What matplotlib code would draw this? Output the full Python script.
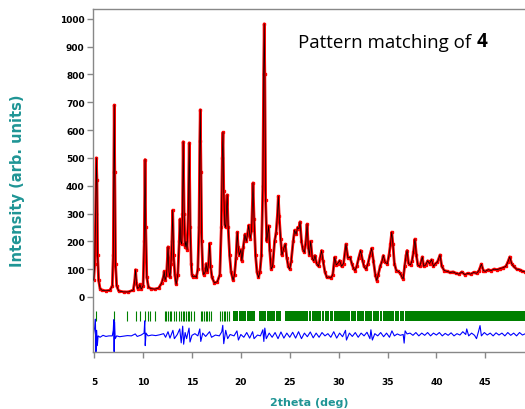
import matplotlib
matplotlib.use("Agg")
import matplotlib.pyplot as plt

# ---------------- data ----------------
obs_x = [4.95, 5.05, 5.15, 5.22, 5.28, 5.35, 5.45, 5.6, 5.8, 6.2, 6.6, 6.85, 6.95, 7.0, 7.05, 7.1, 7.18, 7.3, 7.5, 8.0,
         8.5, 9.0, 9.15, 9.23, 9.32, 9.45, 9.6, 9.68, 9.8, 10.0, 10.12, 10.2, 10.27, 10.38, 10.55, 10.8, 11.2, 11.6, 11.9, 12.1,
         12.16, 12.25, 12.4, 12.55, 12.65, 12.75, 12.85, 12.95, 13.03, 13.12, 13.25, 13.38, 13.55, 13.7, 13.78, 13.85, 13.95, 14.03, 14.1, 14.2,
         14.3, 14.4, 14.5, 14.62, 14.72, 14.82, 14.92, 15.0, 15.1, 15.3, 15.45, 15.6, 15.72, 15.8, 15.85, 15.92, 16.0, 16.1, 16.2, 16.35,
         16.45, 16.55, 16.7, 16.8, 16.9, 17.05, 17.3, 17.6, 17.85, 18.0, 18.1, 18.17, 18.25, 18.35, 18.45, 18.6, 18.7, 18.85, 19.0, 19.2,
         19.35, 19.5, 19.63, 19.72, 19.85, 20.0, 20.1, 20.25, 20.42, 20.55, 20.7, 20.8, 20.95, 21.1, 21.24, 21.35, 21.5, 21.65, 21.8, 21.95,
         22.1, 22.25, 22.33, 22.39, 22.45, 22.53, 22.65, 22.84, 22.95, 23.1, 23.25, 23.45, 23.6, 23.75, 23.83, 23.92, 24.07, 24.2, 24.35, 24.54,
         24.7, 24.85, 25.0, 25.15, 25.35, 25.5, 25.65, 25.8, 25.95, 26.05, 26.2, 26.35, 26.5, 26.65, 26.77, 26.9, 27.0, 27.14, 27.3, 27.45,
         27.58, 27.75, 27.95, 28.1, 28.26, 28.4, 28.6, 28.8, 29.0, 29.2, 29.4, 29.6, 29.75, 29.9, 30.1, 30.3, 30.5, 30.75, 30.95, 31.16,
         31.35, 31.5, 31.67, 31.85, 32.05, 32.25, 32.45, 32.6, 32.8, 33.0, 33.2, 33.38, 33.55, 33.75, 33.9, 34.05, 34.25, 34.45, 34.57, 34.75,
         34.98, 35.15, 35.3, 35.43, 35.55, 35.7, 35.9, 36.1, 36.3, 36.5, 36.6, 36.75, 36.9, 37.0, 37.15, 37.35, 37.5, 37.65, 37.8, 37.95,
         38.1, 38.3, 38.56, 38.7, 38.9, 39.1, 39.3, 39.5, 39.7, 39.9, 40.1, 40.37, 40.55, 40.8, 41.1, 41.4, 41.7, 42.0, 42.3, 42.6,
         42.9, 43.2, 43.5, 43.8, 44.1, 44.35, 44.6, 44.8, 45.0, 45.3, 45.6, 45.9, 46.2, 46.5, 46.8, 47.1, 47.3, 47.5, 47.7, 47.9,
         48.2, 48.5, 48.8, 49.1]
obs_y = [60, 120, 300, 500, 420, 150, 60, 30, 24, 22, 24, 40, 150, 450, 690, 450, 120, 40, 22, 18,
         18, 25, 60, 98, 50, 30, 35, 45, 28, 40, 200, 494, 250, 70, 35, 30, 28, 32, 50, 75,
         92, 60, 80, 180, 90, 70, 120, 200, 312, 150, 80, 45, 80, 200, 280, 200, 190, 300, 558, 300,
         180, 200, 170, 300, 554, 250, 120, 80, 72, 75, 70, 100, 250, 560, 673, 450, 200, 100, 80, 90,
         120, 90, 120, 193, 110, 70, 50, 55, 80, 250, 500, 592, 380, 260, 250, 367, 250, 150, 90, 60,
         80, 140, 233, 180, 150, 170, 130, 180, 225, 200, 230, 258, 210, 240, 410, 280, 150, 90, 70, 90,
         150, 400, 800, 982, 800, 350, 200, 256, 170, 100, 110, 200, 230, 300, 362, 290, 208, 150, 170, 190,
         140, 110, 100, 130, 200, 240, 225, 250, 245, 270, 200, 170, 160, 200, 262, 180, 150, 200, 140, 130,
         149, 120, 110, 140, 167, 130, 90, 70, 72, 68, 80, 143, 115, 120, 131, 110, 120, 190, 140, 143,
         120, 105, 95, 110, 140, 167, 130, 110, 100, 120, 150, 175, 130, 80, 59, 80, 110, 130, 149, 125,
         119, 150, 190, 233, 190, 120, 95, 92, 85, 70, 65, 110, 150, 167, 120, 115, 130, 160, 208, 150,
         115, 110, 144, 110, 115, 130, 120, 134, 110, 120, 125, 151, 110, 95, 92, 88, 90, 85, 82, 90,
         80, 85, 82, 88, 85, 95, 118, 95, 92, 98, 95, 100, 98, 102, 105, 110, 125, 144, 120, 110,
         100, 98, 92, 90]

diff_x = [4.87, 4.95, 5.05, 5.12, 5.18, 5.25, 5.32, 5.4, 5.6, 5.9, 6.2, 6.5, 6.85, 6.95, 7.0, 7.04, 7.08, 7.15, 7.3, 7.6,
          8.0, 8.4, 8.8, 9.2, 9.4, 9.8, 10.1, 10.17, 10.22, 10.3, 10.5, 10.9, 11.3, 11.7, 12.1, 12.3, 12.55, 12.75, 13.05, 13.2,
          13.5, 13.75, 13.9, 14.05, 14.15, 14.3, 14.45, 14.7, 14.8, 15.0, 15.3, 15.6, 15.8, 15.9, 16.1, 16.4, 16.8, 17.0, 17.4, 17.8,
          18.05, 18.15, 18.25, 18.45, 18.65, 18.9, 19.3, 19.6, 19.75, 20.0, 20.3, 20.6, 20.9, 21.2, 21.35, 21.7, 22.0, 22.25, 22.35, 22.45,
          22.6, 22.9, 23.2, 23.5, 23.8, 24.1, 24.4, 24.7, 25.0, 25.3, 25.6, 25.9, 26.2, 26.5, 26.8, 27.1, 27.4, 27.7, 28.0, 28.3,
          28.6, 28.9, 29.2, 29.5, 29.8, 30.1, 30.4, 30.7, 30.8, 31.1, 31.4, 31.7, 32.0, 32.3, 32.6, 32.9, 33.2, 33.3, 33.45, 33.7,
          34.0, 34.3, 34.6, 34.9, 35.2, 35.45, 35.7, 36.0, 36.3, 36.6, 36.7, 36.8, 37.0, 37.3, 37.6, 37.9, 38.2, 38.5, 38.8, 39.1,
          39.4, 39.7, 40.0, 40.3, 40.6, 40.9, 41.2, 41.5, 41.8, 42.1, 42.4, 42.7, 43.0, 43.1, 43.3, 43.6, 43.9, 44.1, 44.3, 44.46,
          44.6, 44.9, 45.2, 45.5, 45.8, 46.1, 46.4, 46.7, 47.0, 47.3, 47.6, 47.9, 48.2, 48.5, 48.8, 49.1]
diff_y = [-150, -130, -110, -80, -197, -120, -175, -140, -145, -138, -142, -140, -140, -120, -82, -197, -90, -150, -140, -143,
          -141, -139, -140, -133, -142, -137, -130, -86, -175, -130, -140, -137, -139, -136, -132, -145, -125, -148, -120, -150,
          -135, -115, -165, -105, -170, -128, -150, -112, -162, -138, -132, -140, -115, -160, -130, -142, -125, -145, -137, -140,
          -125, -102, -168, -120, -150, -135, -140, -122, -155, -135, -145, -128, -148, -125, -150, -137, -140, -118, -160, -112,
          -150, -130, -145, -128, -150, -126, -148, -130, -145, -127, -148, -125, -150, -130, -143, -126, -147, -130, -145, -128,
          -140, -132, -145, -125, -148, -130, -143, -120, -155, -130, -142, -128, -145, -130, -140, -127, -150, -118, -155, -132,
          -140, -128, -143, -130, -145, -122, -140, -133, -138, -135, -166, -122, -133, -130, -138, -128, -140, -130, -138, -128,
          -140, -130, -137, -128, -140, -131, -138, -129, -140, -132, -137, -125, -135, -115, -140, -130, -138, -150, -125, -103,
          -140, -128, -137, -130, -140, -129, -137, -130, -140, -128, -138, -130, -140, -128, -137, -132]

# Bragg reflection positions (isolated ticks) and dense blocks of ticks
refl_pos = [5.2, 7.02, 8.38, 9.23, 9.64, 10.15, 10.49, 10.66, 11.18, 12.2, 12.37, 12.54, 12.71, 12.88, 13.15, 13.4,
            13.7, 13.87, 14.04, 14.21, 14.38, 14.55, 14.72, 14.89, 15.16, 15.9, 16.07, 16.24, 16.41, 16.58, 16.75, 16.92,
            17.9, 18.07, 18.24, 18.41, 18.58, 18.75]
refl_start = [19.2, 19.85, 20.6, 21.9, 22.7, 23.6, 24.55, 26.95, 27.28, 27.73, 28.25, 28.65, 29.1, 29.55, 31.25, 31.85,
              32.7, 33.55, 34.25, 34.55, 35.8, 36.32, 36.75]
refl_end = [19.75, 20.5, 21.4, 22.6, 23.5, 24.1, 26.85, 27.2, 27.65, 28.15, 28.55, 29.0, 29.45, 31.15, 31.75, 32.6,
            33.45, 34.15, 34.45, 35.7, 36.22, 36.65, 49.2]

x_ticks = [5, 10, 15, 20, 25, 30, 35, 40, 45]
y_ticks = [0, 100, 200, 300, 400, 500, 600, 700, 800, 900, 1000]

# ---------------- figure ----------------
fig = plt.figure(figsize=(5.25, 4.10), dpi=100)
ax = fig.add_axes([0.177, 0.139, 0.823, 0.837])

grey = "#888888"
teal = "#1f9595"

ax.plot(obs_x, obs_y, color="red", lw=2.0, zorder=2)
ax.plot(obs_x, obs_y, ls="none", marker="s", ms=1.6, color="red", zorder=2)
ax.plot(obs_x, obs_y, color="black", lw=0.5, zorder=3)

ax.vlines(refl_pos, -85, -49, color="#008000", lw=0.8, zorder=2)
for s, e in zip(refl_start, refl_end):
    ax.fill_between([s, e], -85, -49, color="#008000", lw=0, zorder=2)

ax.plot(diff_x, diff_y, color="blue", lw=0.8, zorder=2)

ax.set_xlim(4.87, 49.06)
ax.set_ylim(-198, 1036)

ax.set_xticks(x_ticks)
ax.set_yticks(y_ticks)
ax.tick_params(axis="both", direction="out", color=grey, length=4, width=1)
ax.tick_params(axis="x", pad=14)
ax.tick_params(axis="y", pad=2)
for lab in ax.get_xticklabels() + ax.get_yticklabels():
    lab.set_fontweight("bold")
    lab.set_fontsize(6.5)
    lab.set_color("black")

for side in ["left", "top", "bottom"]:
    ax.spines[side].set_color(grey)
    ax.spines[side].set_linewidth(1.0)
ax.spines["right"].set_visible(False)

ax.set_xlabel("2theta (deg)", color=teal, fontweight="bold", fontsize=8, labelpad=8)
fig.text(0.034, 0.558, "Intensity (arb. units)", color=teal, fontweight="bold", fontsize=10.5,
         rotation=90, ha="center", va="center")

t1 = fig.text(0.568, 0.883, "Pattern matching of ", fontsize=13.5, family="Open Sans",
              ha="left", va="baseline", color="black")
ax.annotate("4", xy=(1, 0), xycoords=t1, va="bottom", ha="left", fontsize=13.5,
            family="Open Sans", fontweight="bold", color="black")

fig.savefig("out.png", dpi=100)
